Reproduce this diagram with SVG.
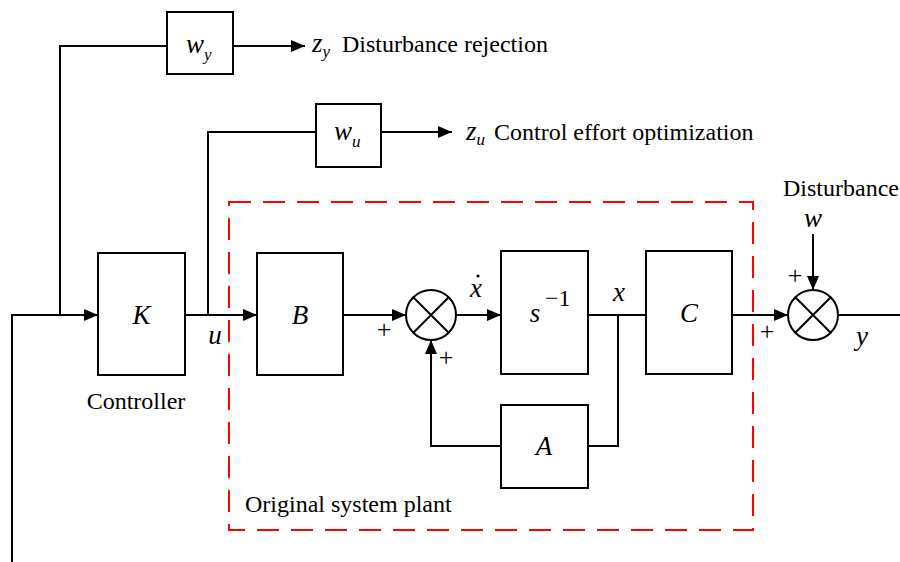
<svg xmlns="http://www.w3.org/2000/svg" width="900" height="562" viewBox="0 0 900 562">
<defs>
<marker id="ah" markerWidth="14" markerHeight="12" refX="14" refY="6" orient="auto" markerUnits="userSpaceOnUse">
<path d="M0,0 L14,6 L0,12 Z" fill="#000"/>
</marker>
<style>
.blk{fill:#fff;stroke:#000;stroke-width:2}
.ln{fill:none;stroke:#000;stroke-width:2}
.ar{fill:none;stroke:#000;stroke-width:2;marker-end:url(#ah)}
text{font-family:'Liberation Serif','DejaVu Serif','Times New Roman',serif;fill:#000}
.t{font-size:24px}
.i{font-style:italic;font-size:27px}
.pl{font-size:26px}
</style>
</defs>
<rect width="900" height="562" fill="#fff"/>
<g id="plant-boundary">
<rect x="229" y="202" width="524" height="328" fill="none" stroke="#f00" stroke-width="2" stroke-dasharray="22,12"/>
<text class="t" x="245" y="512">Original system plant</text>
</g>
<g id="connectors">
<polyline class="ln" points="12,562 12,315 60,315"/>
<line class="ar" x1="60" y1="315" x2="98" y2="315"/>
<polyline class="ln" points="60,315 60,46 167,46"/>
<line class="ar" x1="233" y1="46" x2="305" y2="46"/>
<line class="ar" x1="185" y1="315" x2="257" y2="315"/>
<polyline class="ln" points="208,315 208,132 316,132"/>
<line class="ar" x1="381" y1="132" x2="452" y2="132"/>
<line class="ar" x1="343" y1="315" x2="406" y2="315"/>
<line class="ar" x1="456" y1="315" x2="501" y2="315"/>
<line class="ln" x1="588" y1="315" x2="646" y2="315"/>
<polyline class="ln" points="618,315 618,446 588,446"/>
<polyline class="ar" points="501,446 431,446 431,340"/>
<line class="ar" x1="732" y1="315" x2="788" y2="315"/>
<line class="ar" x1="813" y1="234" x2="813" y2="290"/>
<line class="ln" x1="838" y1="315" x2="900" y2="315"/>
</g>
<g id="Wy">
<rect class="blk" x="167" y="12" width="66" height="62"/>
<text class="i" x="186" y="53">w<tspan font-size="17" dy="7">y</tspan></text>
</g>
<text class="i" x="312" y="52">z<tspan font-size="17" dy="5">y</tspan></text>
<text class="t" x="342" y="52">Disturbance rejection</text>
<g id="Wu">
<rect class="blk" x="316" y="104" width="65" height="63"/>
<text class="i" x="334" y="140">w<tspan font-size="17" dy="7">u</tspan></text>
</g>
<text class="i" x="466" y="140">z<tspan font-size="17" dy="5">u</tspan></text>
<text class="t" x="494" y="140">Control effort optimization</text>
<g id="K">
<rect class="blk" x="98" y="253" width="87" height="122"/>
<text class="i" x="141.5" y="324" text-anchor="middle">K</text>
<text class="t" x="136" y="409" text-anchor="middle">Controller</text>
</g>
<text class="i" x="215" y="344" text-anchor="middle">u</text>
<g id="B">
<rect class="blk" x="257" y="253" width="86" height="122"/>
<text class="i" x="300" y="324" text-anchor="middle">B</text>
</g>
<g id="sum1">
<circle class="blk" cx="431" cy="315" r="25"/>
<path class="ln" d="M413.3,297.3 L448.7,332.7 M448.7,297.3 L413.3,332.7"/>
<text class="pl" x="384" y="338" text-anchor="middle">+</text>
<text class="pl" x="446" y="366" text-anchor="middle">+</text>
</g>
<text class="i" x="476" y="297" text-anchor="middle">x</text>
<circle cx="478" cy="276" r="1.6" fill="#000"/>
<g id="integrator">
<rect class="blk" x="501" y="251" width="87" height="123"/>
<text class="i" x="535" y="322" text-anchor="middle">s</text>
<text class="t" x="545" y="306" font-size="17">−1</text>
</g>
<text class="i" x="619" y="301" text-anchor="middle">x</text>
<g id="C">
<rect class="blk" x="646" y="251" width="86" height="123"/>
<text class="i" x="689" y="322" text-anchor="middle">C</text>
</g>
<g id="A">
<rect class="blk" x="501" y="405" width="87" height="83"/>
<text class="i" x="544" y="455" text-anchor="middle">A</text>
</g>
<g id="sum2">
<circle class="blk" cx="813" cy="315" r="25"/>
<path class="ln" d="M795.3,297.3 L830.7,332.7 M830.7,297.3 L795.3,332.7"/>
<text class="pl" x="767" y="340" text-anchor="middle">+</text>
<text class="pl" x="795" y="284" text-anchor="middle">+</text>
</g>
<text class="t" x="841" y="196" text-anchor="middle">Disturbance</text>
<text class="i" x="813" y="227" text-anchor="middle" font-size="25">w</text>
<text class="i" x="862" y="345" text-anchor="middle">y</text>
</svg>
